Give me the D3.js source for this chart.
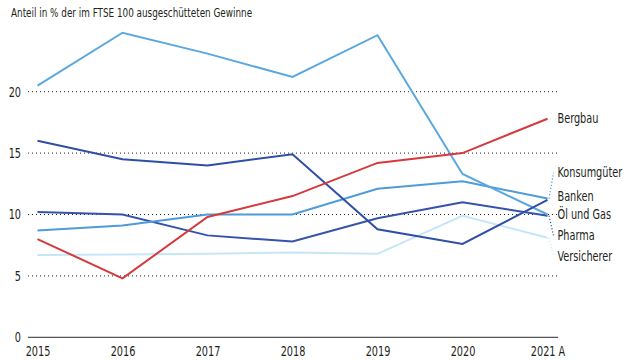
<!DOCTYPE html>
<html><head><meta charset="utf-8">
<script src="https://cdn.jsdelivr.net/npm/d3@7/dist/d3.min.js"></script>
<style>
html,body{margin:0;padding:0;background:#fff;}
svg text{font-family:"DejaVu Sans Condensed","Liberation Sans Narrow","Roboto",sans-serif;fill:#231f20;}
</style></head>
<body><svg id="c" width="640" height="360"></svg>
<script>
const years = ["2015","2016","2017","2018","2019","2020","2021 A"];
const yTicks = [0,5,10,15,20];
const title = "Anteil in % der im FTSE 100 ausgeschütteten Gewinne";
const seriesNames = ["Öl und Gas","Bergbau","Konsumgüter","Banken","Pharma","Versicherer"];
const oelUndGas   = [20.5, 24.8, 23.1, 21.2, 24.6, 13.3, 10.0];
const bergbau     = [8.0, 4.8, 9.8, 11.5, 14.2, 15.0, 17.8];
const konsumgueter= [8.7, 9.1, 10.0, 10.0, 12.1, 12.7, 11.3];
const banken      = [16.0, 14.5, 14.0, 14.9, 8.8, 7.6, 11.2];
const pharma      = [10.2, 10.0, 8.3, 7.8, 9.7, 11.0, 9.9];
const versicherer = [6.7, 6.75, 6.8, 6.9, 6.8, 9.9, 8.1];
const seriesValues = [oelUndGas, bergbau, konsumgueter, banken, pharma, versicherer];
const colors = ["#5aa8df","#d6393c","#4d9bd8","#2f4ea5","#3553aa","#c6e6f8"];
// label layout (value units at which each end label sits)
const labelAt = [10.0, 17.8, 13.4, 11.5, 8.3, 6.6];

const svg = d3.select("#c");
const x = d3.scalePoint().domain(years).range([37.5, 547.5]);
const y = d3.scaleLinear().domain([0, 25]).range([337.3, 30.3]);
const xL = 28, xR = 558;
const SQ = 0.8;
function squeeze(sel, f) {
  sel.each(function() {
    const w = this.getComputedTextLength();
    d3.select(this).attr("textLength", w * (f || SQ)).attr("lengthAdjust", "spacingAndGlyphs");
  });
}

squeeze(svg.append("text").attr("x", 11).attr("y", 16.5).attr("font-size", 13).text(title), 0.755);

// gridlines
svg.append("g").selectAll("line").data(yTicks.filter(d => d > 0)).join("line")
  .attr("x1", xL).attr("x2", xR).attr("y1", d => y(d)).attr("y2", d => y(d))
  .attr("stroke", "#222").attr("stroke-width", 1).attr("stroke-dasharray", "1,3");
svg.append("line").attr("x1", xL).attr("x2", xR).attr("y1", y(0)).attr("y2", y(0))
  .attr("stroke", "#555").attr("stroke-width", 1.2);

// y labels
const yAxis = d3.axisLeft(y).tickValues(yTicks).tickSize(0).tickPadding(0);
const gy = svg.append("g").attr("transform", "translate(21,0)").call(yAxis);
gy.select(".domain").remove();
gy.selectAll("text").attr("font-size", 13.5).attr("fill", "#231f20")
  .style("font-family", '"DejaVu Sans Condensed","Liberation Sans Narrow",sans-serif');
squeeze(gy.selectAll("text"));

// x labels
const xAxis = d3.axisBottom(x).tickSize(0).tickPadding(0);
const gx = svg.append("g").attr("transform", "translate(0,346)").call(xAxis);
gx.select(".domain").remove();
gx.selectAll("text").attr("font-size", 13.5).attr("fill", "#231f20")
  .style("font-family", '"DejaVu Sans Condensed","Liberation Sans Narrow",sans-serif');
squeeze(gx.selectAll("text"));

// lines
const line = d3.line().x((d, i) => x(years[i])).y(d => y(d));
const order = [5, 4, 2, 0, 3, 1];
svg.append("g").selectAll("path").data(order).join("path")
  .attr("d", k => line(seriesValues[k]))
  .attr("fill", "none").attr("stroke", k => colors[k]).attr("stroke-width", 2)
  .attr("stroke-linejoin", "miter");

// leaders + labels
const xe = x(years[years.length - 1]);
seriesNames.forEach((name, k) => {
  const last = seriesValues[k][seriesValues[k].length - 1];
  const ly = y(labelAt[k]);
  if (Math.abs(y(last) - ly) > 4) {
    svg.append("line").attr("x1", xe + 1.5).attr("y1", y(last))
      .attr("x2", xe + 6).attr("y2", ly)
      .attr("stroke", colors[k]).attr("stroke-width", 1.2).attr("stroke-dasharray", "1.2,2");
  }
  squeeze(svg.append("text").attr("x", 557.5).attr("y", ly).attr("dy", "0.35em")
    .attr("font-size", 13.5).text(name));
});
</script></body></html>
